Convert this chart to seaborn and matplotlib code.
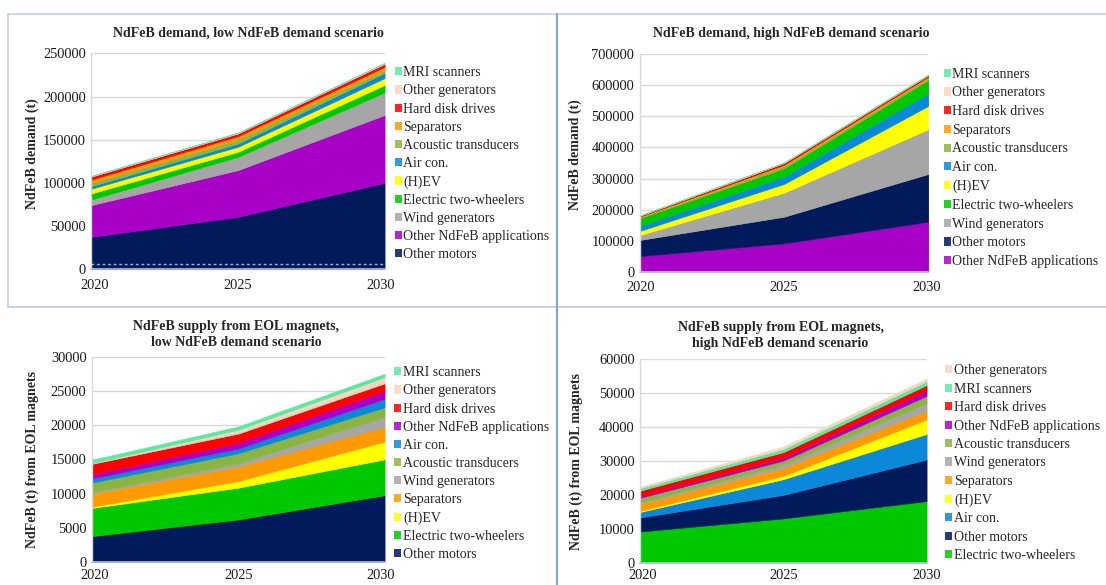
import numpy as np
import pandas as pd
import matplotlib
matplotlib.use("Agg")
import matplotlib.pyplot as plt
import seaborn as sns
from matplotlib.patches import Patch
from matplotlib.lines import Line2D
from matplotlib.ticker import FuncFormatter
from matplotlib.transforms import ScaledTranslation

# ---------------------------------------------------------------- data
years = [2020, 2025, 2030]

# NdFeB demand (t), low demand scenario -- layers listed bottom to top
low_demand_layers = ["Other motors", "Other NdFeB applications", "Wind generators",
                     "Electric two-wheelers", "(H)EV", "Air con.", "Acoustic transducers",
                     "Separators", "Hard disk drives", "Other generators", "MRI scanners"]
low_demand_t = [[37800, 61000, 100300],
                [36700, 54000, 78500],
                [6500, 15400, 26200],
                [7000, 5800, 8500],
                [5500, 5800, 8000],
                [3000, 3800, 6000],
                [4000, 4700, 3500],
                [3500, 3800, 3500],
                [3500, 3100, 3500],
                [500, 600, 700],
                [500, 500, 600]]

# NdFeB demand (t), high demand scenario
high_demand_layers = ["Other NdFeB applications", "Other motors", "Wind generators",
                      "(H)EV", "Air con.", "Electric two-wheelers", "Acoustic transducers",
                      "Separators", "Hard disk drives", "Other generators", "MRI scanners"]
high_demand_t = [[50500, 91300, 161000],
                 [51500, 85700, 153700],
                 [16000, 77600, 144300],
                 [13000, 27900, 75000],
                 [16000, 23500, 40500],
                 [25000, 27000, 43100],
                 [3000, 7000, 6400],
                 [2000, 4000, 4000],
                 [3000, 6000, 5000],
                 [500, 1000, 1000],
                 [500, 1000, 1000]]

# NdFeB supply from EOL magnets (t), low demand scenario
low_eol_layers = ["Other motors", "Electric two-wheelers", "(H)EV", "Separators",
                  "Wind generators", "Acoustic transducers", "Air con.",
                  "Other NdFeB applications", "Hard disk drives", "Other generators",
                  "MRI scanners"]
low_eol_t = [[3780, 6220, 9760],
             [4120, 4640, 5240],
             [150, 960, 2570],
             [1950, 2150, 2180],
             [150, 480, 1450],
             [1450, 1440, 1400],
             [600, 710, 1250],
             [600, 820, 1150],
             [1550, 1340, 1100],
             [100, 570, 900],
             [480, 480, 500]]

# NdFeB supply from EOL magnets (t), high demand scenario
high_eol_layers = ["Electric two-wheelers", "Other motors", "Air con.", "(H)EV",
                   "Separators", "Wind generators", "Acoustic transducers",
                   "Other NdFeB applications", "Hard disk drives", "MRI scanners",
                   "Other generators"]
high_eol_t = [[9150, 13000, 18110],
              [4150, 6940, 12240],
              [1630, 4630, 7550],
              [290, 960, 4250],
              [2120, 2410, 2650],
              [290, 960, 2200],
              [1450, 1160, 2120],
              [480, 770, 1580],
              [1640, 1730, 1600],
              [760, 970, 1150],
              [390, 670, 780]]

# legend entries, top to bottom
low_demand_legend = ["MRI scanners", "Other generators", "Hard disk drives", "Separators",
                     "Acoustic transducers", "Air con.", "(H)EV", "Electric two-wheelers",
                     "Wind generators", "Other NdFeB applications", "Other motors"]
high_demand_legend = ["MRI scanners", "Other generators", "Hard disk drives", "Separators",
                      "Acoustic transducers", "Air con.", "(H)EV", "Electric two-wheelers",
                      "Wind generators", "Other motors", "Other NdFeB applications"]
low_eol_legend = ["MRI scanners", "Other generators", "Hard disk drives",
                  "Other NdFeB applications", "Air con.", "Acoustic transducers",
                  "Wind generators", "Separators", "(H)EV", "Electric two-wheelers",
                  "Other motors"]
high_eol_legend = ["Other generators", "MRI scanners", "Hard disk drives",
                   "Other NdFeB applications", "Acoustic transducers", "Wind generators",
                   "Separators", "(H)EV", "Air con.", "Other motors",
                   "Electric two-wheelers"]

# ---------------------------------------------------------------- style
COLORS = {
    "Other motors": "#001a5c",
    "Other NdFeB applications": "#a900c8",
    "Wind generators": "#a6a6a6",
    "Electric two-wheelers": "#00c800",
    "(H)EV": "#ffff00",
    "Air con.": "#0b88d8",
    "Acoustic transducers": "#8bb543",
    "Separators": "#ff9a00",
    "Hard disk drives": "#ff0000",
    "Other generators": "#f8d5bd",
    "MRI scanners": "#5ae9a0",
}

sns.set_theme(style="white")
plt.rcParams["font.family"] = ["Liberation Serif", "DejaVu Serif"]
plt.rcParams["font.size"] = 10

W, H = 1106, 585
fig = plt.figure(figsize=(W / 100, H / 100), dpi=100)
fig.patch.set_facecolor("white")


def px_axes(left, right, bottom, top):
    return fig.add_axes([left / W, 1 - bottom / H, (right - left) / W, (bottom - top) / H])


def draw_panel(ax, layers, values, ymax, ystep, legend_labels, leg_x, leg_top,
               spacing, label_shift=(0, 0), xpad=6.5):
    table = pd.DataFrame(values, index=layers, columns=years)
    cols = [COLORS[c] for c in layers]
    polys = ax.stackplot(table.columns, table.values, colors=cols)
    for p, c in zip(polys, cols):
        p.set_edgecolor(c)
        p.set_linewidth(0.4)
    ax.set_xlim(years[0], years[-1])
    ax.set_ylim(0, ymax)
    ax.set_yticks(np.arange(0, ymax + 1, ystep))
    ax.yaxis.set_major_formatter(FuncFormatter(lambda v, _: f"{int(v)}"))
    ax.set_xticks(years)
    ax.grid(axis="y", color="#d9d9d9", linewidth=1)
    ax.set_axisbelow(True)
    for s in ("top", "right"):
        ax.spines[s].set_visible(False)
    ax.spines["left"].set_color("#d9d9d9")
    ax.spines["bottom"].set_color("#b9c6d8")
    ax.spines["left"].set_linewidth(1)
    ax.spines["bottom"].set_linewidth(1.2)
    ax.tick_params(axis="both", length=0, labelsize=10.4, colors="#1a1a1a")
    ax.tick_params(axis="y", pad=4)
    ax.tick_params(axis="x", pad=xpad)
    ax.set_facecolor("white")
    xl = ax.get_xticklabels()
    xl[0].set_transform(xl[0].get_transform()
                        + ScaledTranslation(label_shift[0] / 100, 0, fig.dpi_scale_trans))
    xl[-1].set_transform(xl[-1].get_transform()
                         + ScaledTranslation(label_shift[1] / 100, 0, fig.dpi_scale_trans))
    handles = [Patch(facecolor=COLORS[k], edgecolor="none", alpha=0.85) for k in legend_labels]
    ax.legend(handles, legend_labels, loc="upper left",
              bbox_to_anchor=(leg_x / W, 1 - leg_top / H), bbox_transform=fig.transFigure,
              frameon=False, borderpad=0, borderaxespad=0, handlelength=0.52,
              handleheight=0.52, handletextpad=0.12, labelspacing=spacing, fontsize=10)


ax1 = px_axes(91.4, 384.6, 269.5, 53.5)
draw_panel(ax1, low_demand_layers, low_demand_t, 250000, 50000, low_demand_legend,
           394.6, 66.3, 0.37, (3, -4))
ax1.axhline(6000, color="#9fb0d0", linestyle=(0, (2, 2)), linewidth=1)

ax2 = px_axes(639.7, 928.4, 271.7, 54.3)
draw_panel(ax2, high_demand_layers, high_demand_t, 700000, 100000, high_demand_legend,
           943.6, 67.7, 0.41, (1, -2))

ax3 = px_axes(92.0, 384.6, 562.0, 356.7)
draw_panel(ax3, low_eol_layers, low_eol_t, 30000, 5000, low_eol_legend,
           394.0, 366.3, 0.37, (3, -4), xpad=5.0)

ax4 = px_axes(640.4, 926.6, 562.5, 359.0)
draw_panel(ax4, high_eol_layers, high_eol_t, 60000, 10000, high_eol_legend,
           945.0, 364.3, 0.39, (2, 0), xpad=5.0)

# titles
def fig_text(x, y, s, **kw):
    fig.text(x / W, 1 - y / H, s, fontsize=10, **kw)

fig_text(248, 33.3, "NdFeB demand, low NdFeB demand scenario", ha="center", va="center",
         fontweight="bold")
fig_text(791, 33.7, "NdFeB demand, high NdFeB demand scenario", ha="center", va="center",
         fontweight="bold")
fig_text(236, 334.7, "NdFeB supply from EOL magnets,\nlow NdFeB demand scenario",
         ha="center", va="center", fontweight="bold", linespacing=1.25)
fig_text(780.5, 335.3, "NdFeB supply from EOL magnets,\nhigh NdFeB demand scenario",
         ha="center", va="center", fontweight="bold", linespacing=1.25)

# y-axis titles
fig_text(32, 154, "NdFeB demand (t)", ha="center", va="center", rotation=90,
         fontweight="bold")
fig_text(575, 155, "NdFeB demand (t)", ha="center", va="center", rotation=90,
         fontweight="bold")
fig_text(32, 460, "NdFeB (t) from EOL magnets", ha="center", va="center", rotation=90,
         fontweight="bold")
fig_text(576.6, 461.7, "NdFeB (t) from EOL magnets", ha="center", va="center",
         rotation=90, fontweight="bold")

# cell frame around the four panels
def frame_line(x0, y0, x1, y1, color, lw):
    fig.add_artist(Line2D([x0 / W, x1 / W], [1 - y0 / H, 1 - y1 / H],
                          transform=fig.transFigure, color=color, linewidth=lw))

frame_line(8, 14, W, 14, "#c9d5e5", 1.3)
frame_line(8, 14, 8, 307, "#c9d5e5", 1.3)
frame_line(8, 307, W, 307, "#c4d0e2", 1.3)
frame_line(557.3, 14, 557.3, H, "#86a3cc", 1.5)

fig.savefig("out.png", dpi=100, facecolor="white")
